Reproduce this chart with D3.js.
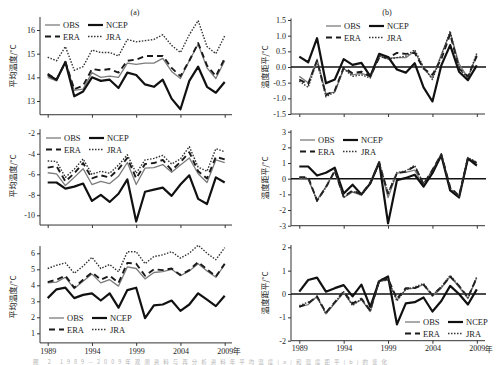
<!DOCTYPE html>
<html><head><meta charset="utf-8">
<script src="https://cdn.jsdelivr.net/npm/d3@7"></script>
<style>body{margin:0;background:#fff}svg{display:block}</style>
</head><body><svg id="c" width="500" height="365"></svg>
<script>
const years = [1989,1990,1991,1992,1993,1994,1995,1996,1997,1998,1999,2000,2001,2002,2003,2004,2005,2006,2007,2008,2009];
const xTickYears = [1989,1994,1999,2004,2009];
const seriesNames = ["OBS","NCEP","ERA","JRA"];

// Row 1 — mean temperature (a) and anomaly (b)
const obs1  = [14.0,13.85,14.65,13.45,13.5,14.2,14.0,14.05,14.0,14.6,14.55,14.6,14.6,14.8,14.25,13.95,14.7,15.4,14.4,13.95,14.7];
const ncep1 = [14.1,13.9,14.65,13.2,13.4,14.0,13.85,13.9,13.55,14.2,14.1,13.7,13.6,13.9,13.1,12.65,13.85,14.45,13.6,13.35,13.8];
const era1  = [14.15,13.9,14.65,13.5,13.65,14.35,14.3,14.35,14.2,14.7,14.75,14.9,14.9,14.9,14.4,14.05,14.7,15.45,14.5,14.05,14.8];
const jra1  = [14.85,14.7,15.3,14.3,14.45,15.15,15.05,15.05,14.9,15.6,15.5,15.55,15.6,15.8,15.35,15.05,15.8,16.4,15.3,15.0,15.75];
const obs1a  = [-0.3,-0.5,0.25,-0.85,-0.8,-0.05,-0.25,-0.2,-0.3,0.35,0.28,0.3,0.3,0.5,-0.05,-0.35,0.4,1.1,0.1,-0.35,0.4];
const ncep1a = [0.33,0.15,0.92,-0.52,-0.4,0.25,0.07,0.13,-0.3,0.42,0.32,-0.08,-0.18,0.12,-0.65,-1.1,0.05,0.7,-0.15,-0.42,0.05];
const era1a  = [-0.4,-0.55,0.2,-0.9,-0.75,-0.02,-0.2,-0.15,-0.3,0.3,0.3,0.45,0.42,0.45,-0.05,-0.25,0.25,1.05,-0.05,-0.3,0.35];
const jra1a  = [-0.45,-0.65,0.2,-0.95,-0.8,-0.05,-0.3,-0.25,-0.35,0.35,0.25,0.3,0.35,0.55,0.0,-0.4,0.35,1.15,-0.05,-0.35,0.45];

// Row 2
const obs2  = [-5.85,-5.95,-7.1,-6.3,-5.45,-7.0,-6.7,-6.9,-6.2,-4.85,-7.0,-5.4,-5.35,-5.05,-5.8,-5.1,-4.4,-5.95,-6.8,-4.6,-4.85];
const ncep2 = [-6.8,-6.8,-7.4,-7.2,-6.9,-8.6,-8.0,-8.7,-7.9,-6.5,-10.6,-7.7,-7.5,-7.3,-8.1,-7.0,-6.1,-8.4,-8.9,-6.3,-6.8];
const era2  = [-5.35,-5.2,-6.7,-5.9,-4.9,-6.4,-6.1,-6.3,-5.5,-4.4,-6.4,-5.0,-4.9,-4.6,-5.6,-4.8,-3.85,-5.7,-6.4,-4.3,-4.55];
const jra2  = [-4.7,-4.75,-6.3,-5.5,-4.5,-6.0,-5.7,-5.9,-5.1,-4.1,-5.9,-4.6,-4.45,-4.15,-5.0,-4.5,-3.3,-5.3,-5.7,-3.5,-3.8];
const obs2a  = [0.0,-0.05,-1.35,-0.5,0.45,-1.2,-0.85,-1.05,-0.35,0.95,-1.2,0.35,0.4,0.55,-0.45,0.6,1.45,-0.7,-1.2,1.25,0.8];
const ncep2a = [0.78,0.78,0.2,0.38,0.7,-0.95,-0.38,-1.0,-0.3,1.05,-2.85,-0.1,0.05,0.25,-0.5,0.35,1.5,-0.75,-1.2,1.3,0.85];
const era2a  = [0.1,0.1,-1.4,-0.55,0.5,-1.15,-0.75,-1.0,-0.25,1.0,-0.95,0.35,0.45,0.8,-0.35,0.55,1.55,-0.55,-1.1,1.3,1.0];
const jra2a  = [0.05,0.05,-1.45,-0.55,0.55,-1.2,-0.8,-1.05,-0.25,1.05,-0.9,0.4,0.5,0.85,-0.3,0.5,1.6,-0.6,-1.15,1.35,1.05];

// Row 3
const obs3  = [4.15,4.2,4.5,3.8,4.25,4.7,4.15,4.35,3.95,5.15,5.05,4.4,4.8,4.85,5.0,4.6,4.9,5.35,4.9,4.5,5.3];
const ncep3 = [3.2,3.75,3.85,3.2,3.4,3.5,3.05,3.5,2.6,3.7,3.85,1.95,2.75,2.8,3.05,2.4,2.8,3.5,3.1,2.7,3.35];
const era3  = [4.2,4.35,4.6,3.85,4.35,4.8,4.35,4.6,4.15,5.4,5.35,4.6,5.0,4.95,5.05,4.65,4.95,5.45,5.0,4.55,5.35];
const jra3  = [5.05,5.25,5.4,4.75,5.2,5.75,5.05,5.3,4.85,6.1,6.1,5.35,5.8,5.9,6.1,5.7,6.0,6.5,6.0,5.6,6.35];
const obs3a  = [-0.55,-0.45,-0.1,-0.85,-0.4,0.05,-0.45,-0.25,-0.75,0.55,0.6,-0.25,0.2,0.25,0.4,-0.1,0.25,0.75,0.3,-0.2,0.7];
const ncep3a = [0.1,0.6,0.7,0.1,0.25,0.38,-0.1,0.4,-0.55,0.55,0.75,-1.3,-0.4,-0.35,-0.15,-0.75,-0.3,0.35,0.0,-0.45,0.2];
const era3a  = [-0.55,-0.4,-0.1,-0.8,-0.35,0.1,-0.4,-0.2,-0.7,0.6,0.65,-0.2,0.25,0.25,0.4,-0.05,0.3,0.75,0.35,-0.15,0.7];
const jra3a  = [-0.5,-0.35,-0.15,-0.85,-0.35,0.1,-0.5,-0.2,-0.75,0.55,0.6,-0.3,0.2,0.3,0.45,-0.05,0.3,0.8,0.35,-0.15,0.75];

const yTicks1a = [13,14,15,16];
const yTicks1b = [-1.5,-1.0,-0.5,0.0,0.5,1.0,1.5];
const yTicks2a = [-10,-8,-6,-4,-2];
const yTicks2b = [-3,-2,-1,0,1,2,3];
const yTicks3a = [1,2,3,4,5,6];
const yTicks3b = [-2,-1,0,1,2];
const labelA = "平均温度/°C";
const labelB = "温度距平/°C";
const caption = "图 2    1989—2009年观测资料与再分析资料年平均温度(a)和温度距平(b)的变化";

const styles = {
  OBS:  {stroke:"#7c7c7c", w:1.3, dash:null},
  NCEP: {stroke:"#111", w:2.2, dash:null},
  ERA:  {stroke:"#1a1a1a", w:1.9, dash:"6,4"},
  JRA:  {stroke:"#333", w:1.4, dash:"1.5,1.5"}
};

const L = {ax:40, xr:[47.7,224.7], xEnd:232};
const R = {ax:291, xr:[299.3,476.8], xEnd:485};

const panels = [
  {col:L, dom:[13,16], rng:[101,30], top:16.55, bot:12.42, ticks:yTicks1a, fmt:d=>String(d),
   data:[obs1,ncep1,era1,jra1], label:labelA, labelX:13, labelY:66, leg:[45,25], title:"(a)", titleX:135, titleY:15, zero:false, years:false},
  {col:R, dom:[-1.5,1.5], rng:[114,20], top:1.55, bot:-1.5, ticks:yTicks1b, fmt:d=>d.toFixed(1),
   data:[obs1a,ncep1a,era1a,jra1a], label:labelB, labelX:265, labelY:67, leg:[326,26], title:"(b)", titleX:387, titleY:15, zero:true, years:false},
  {col:L, dom:[-10,-2], rng:[215.3,133.3], top:-1.6, bot:-10.95, ticks:yTicks2a, fmt:d=>String(d),
   data:[obs2,ncep2,era2,jra2], label:labelA, labelX:13, labelY:176, leg:[46,138], zero:false, years:false},
  {col:R, dom:[-3,3], rng:[225.7,131.7], top:3.1, bot:-3, ticks:yTicks2b, fmt:d=>String(d),
   data:[obs2a,ncep2a,era2a,jra2a], label:labelB, labelX:265, labelY:178, leg:[300,140], zero:true, years:false},
  {col:L, dom:[1,6], rng:[333.3,253.3], top:6.45, bot:0.4, ticks:yTicks3a, fmt:d=>String(d),
   data:[obs3,ncep3,era3,jra3], label:labelA, labelX:13, labelY:297, leg:[49,318], zero:false, years:true},
  {col:R, dom:[-2,2], rng:[340.7,247.3], top:2.1, bot:-2, ticks:yTicks3b, fmt:d=>String(d),
   data:[obs3a,ncep3a,era3a,jra3a], label:labelB, labelX:265, labelY:293, leg:[405,322], zero:true, years:true}
];

const svg = d3.select("#c");
const serif = "'Liberation Serif','Times New Roman',serif";
const cjk = "'Noto Sans CJK SC','Liberation Serif',serif";

panels.forEach(p => {
  const x = d3.scaleLinear().domain([years[0], years[years.length-1]]).range(p.col.xr);
  const y = d3.scaleLinear().domain(p.dom).range(p.rng);
  const g = svg.append("g");
  const yBase = y(p.bot);

  const ya = g.append("g").attr("transform", `translate(${p.col.ax},0)`)
    .call(d3.axisLeft(y).tickValues(p.ticks).tickSize(3).tickPadding(2).tickFormat(p.fmt));
  ya.select(".domain").remove();
  ya.selectAll("text").attr("font-family", serif).attr("font-size", 8).attr("fill", "#222");
  ya.selectAll("line").attr("stroke", "#333");
  g.append("line").attr("x1", p.col.ax).attr("x2", p.col.ax).attr("y1", y(p.top)).attr("y2", yBase)
    .attr("stroke", "#333").attr("stroke-width", 1);

  const xa = g.append("g").attr("transform", `translate(0,${yBase})`)
    .call(d3.axisBottom(x).tickValues(xTickYears).tickSize(3).tickPadding(2).tickFormat(d => p.years ? String(d) : ""));
  xa.select(".domain").remove();
  xa.selectAll("text").attr("font-family", serif).attr("font-size", 8).attr("fill", "#222");
  xa.selectAll("line").attr("stroke", "#333");
  g.append("line").attr("x1", p.col.ax).attr("x2", p.col.xEnd).attr("y1", yBase).attr("y2", yBase)
    .attr("stroke", "#333").attr("stroke-width", 1);
  if (p.years) {
    g.append("text").attr("x", x(years[years.length-1]) + 8).attr("y", yBase + 11)
      .attr("font-family", cjk).attr("font-size", 8).attr("fill", "#222").text("年");
  }

  if (p.zero) {
    g.append("line").attr("x1", p.col.ax).attr("x2", p.col.xEnd + 1).attr("y1", y(0)).attr("y2", y(0))
      .attr("stroke", "#111").attr("stroke-width", 1.4);
  }

  const line = d3.line().x((d, i) => x(years[i])).y(d => y(d));
  seriesNames.forEach((name, k) => {
    const s = styles[name];
    g.append("path").datum(p.data[k]).attr("d", line).attr("fill", "none")
      .attr("stroke", s.stroke).attr("stroke-width", s.w)
      .attr("stroke-dasharray", s.dash).attr("stroke-linejoin", "round");
  });

  seriesNames.forEach((name, k) => {
    const s = styles[name];
    const lx = p.leg[0] + (k % 2) * 43;
    const ly = p.leg[1] + Math.floor(k / 2) * 11.5;
    g.append("line").attr("x1", lx).attr("x2", lx + 15).attr("y1", ly).attr("y2", ly)
      .attr("stroke", s.stroke).attr("stroke-width", s.w).attr("stroke-dasharray", s.dash);
    g.append("text").attr("x", lx + 18).attr("y", ly + 3).attr("font-family", serif)
      .attr("font-size", 8.5).attr("fill", "#222").text(name);
  });

  g.append("text").attr("transform", `translate(${p.labelX + 3},${p.labelY}) rotate(-90)`)
    .attr("text-anchor", "middle").attr("font-family", cjk).attr("font-size", 8).attr("fill", "#222").text(p.label);

  if (p.title) {
    g.append("text").attr("x", p.titleX).attr("y", p.titleY).attr("text-anchor", "middle")
      .attr("font-family", serif).attr("font-size", 8).attr("fill", "#222").text(p.title);
  }
});

svg.append("text").attr("x", 33).attr("y", 363.8).attr("font-family", cjk).attr("font-size", 5.5)
  .attr("textLength", 354).attr("lengthAdjust", "spacing")
  .attr("fill", "#b5b5b5").text(caption);
</script></body></html>
